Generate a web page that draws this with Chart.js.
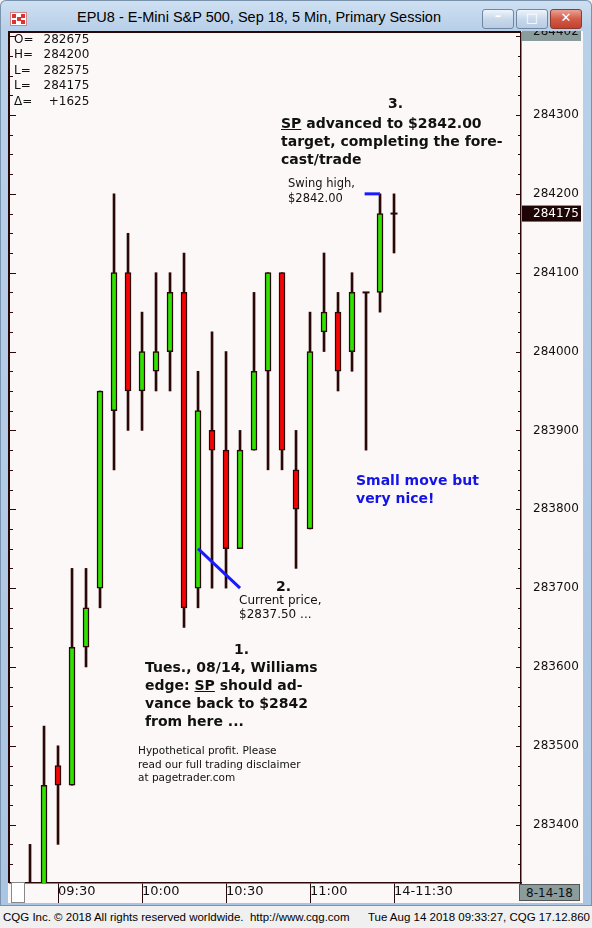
<!DOCTYPE html>
<html>
<head>
<meta charset="utf-8">
<script src="https://cdn.jsdelivr.net/npm/chart.js@4.4.1/dist/chart.umd.min.js"></script>
<style>
html,body{margin:0;padding:0}
body{width:592px;height:928px;position:relative;overflow:hidden;background:#f0f0f0;font-family:"DejaVu Sans",sans-serif;color:#111}
#frame{position:absolute;left:0;top:0;width:592px;height:906px;background:linear-gradient(#cfe0f2,#b9d0e9 28px,#aac5e2);border-radius:6px 6px 0 0;box-shadow:inset 0 0 0 1px #7a93ad}
#icon{position:absolute;left:10px;top:12px;width:15px;height:12px;background:#fff;border:1px solid #c88}
#icon i{position:absolute;width:4px;height:4px;background:#d33}
#title{position:absolute;left:77px;top:9px;font:14.5px "Liberation Sans",sans-serif;color:#000;white-space:nowrap}
.btn{position:absolute;top:9px;height:18px;width:30px;border:1px solid #6f87a3;border-radius:3px;background:linear-gradient(#eef4fb,#c9d9ec 50%,#b7cbe3)}
.btn.x{background:linear-gradient(#eba193,#d25b47 50%,#c4412c);border-color:#8a3b30}
.btn span{position:absolute;left:0;right:0;text-align:center;font:bold 13px "DejaVu Sans";color:#fff;top:0}
#client{position:absolute;left:8px;top:31px;width:575px;height:872px;background:#fcf8f7}
canvas{position:absolute;left:8px;top:31px}
.t{position:absolute;white-space:nowrap}
.b{font-weight:bold;font-size:14px;line-height:18px}
#ohlc{left:12px;top:31px;font-size:12px;line-height:13.4px}
#ohlc td{padding:0}
#ohlc td.v{text-align:right;padding-left:8px}
#status{position:absolute;left:0;top:906px;width:592px;height:22px;background:#f0f0f0;font:11.5px "Liberation Sans",sans-serif;color:#000}
#status span{position:absolute;top:5px}
#datebox{position:absolute;left:519px;top:884px;width:61px;height:17px;background:#8a9c9c;border:1px solid #555;font-size:12px;line-height:17px;text-align:center;color:#111;box-sizing:border-box}
#scrollbox{position:absolute;left:11px;top:882px;width:12px;height:19px;background:#fff;border:1px solid #888}
</style>
</head>
<body>
<div id="frame"></div>
<div id="icon"><i style="left:1px;top:1px"></i><i style="left:6px;top:4px"></i><i style="left:10px;top:1px"></i><i style="left:1px;top:7px"></i><i style="left:10px;top:7px"></i></div>
<div id="title">EPU8 - E-Mini S&amp;P 500, Sep 18, 5 Min, Primary Session</div>
<div class="btn" style="left:482px"><span style="top:-2px">&#8211;</span></div>
<div class="btn" style="left:516px"><span>&#9633;</span></div>
<div class="btn x" style="left:550px"><span>&#10005;</span></div>
<div id="client"></div>
<canvas id="c" width="575" height="872"></canvas>
<div id="scrollbox"></div>
<div id="datebox">8-14-18</div>

<table class="t" id="ohlc">
<tr><td>O=</td><td class="v">282675</td></tr>
<tr><td>H=</td><td class="v">284200</td></tr>
<tr><td>L=</td><td class="v">282575</td></tr>
<tr><td>L=</td><td class="v">284175</td></tr>
<tr><td>&#916;=</td><td class="v">+1625</td></tr>
</table>

<div class="t b" style="left:388px;top:94px">3.</div>
<div class="t b" style="left:281px;top:114px"><u>SP</u> advanced to $2842.00<br>target, completing the fore-<br>cast/trade</div>
<div class="t" style="left:288px;top:176px;font-size:11.5px;line-height:15px">Swing high,<br>$2842.00</div>
<div class="t b" style="left:356px;top:471px;color:#1414e6">Small move but<br>very nice!</div>
<div class="t b" style="left:276px;top:577px">2.</div>
<div class="t" style="left:239px;top:593px;font-size:12px;line-height:14px">Current price,<br>$2837.50 ...</div>
<div class="t b" style="left:234px;top:640px">1.</div>
<div class="t b" style="left:145px;top:658px">Tues., 08/14, Williams<br>edge: <u>SP</u> should ad-<br>vance back to $2842<br>from here ...</div>
<div class="t" style="left:138px;top:744px;font-size:10.5px;line-height:13.5px">Hypothetical profit. Please<br>read our full trading disclaimer<br>at pagetrader.com</div>

<div id="status"><span style="left:3px">CQG Inc. &#169; 2018 All rights reserved worldwide.&nbsp; http://www.cqg.com</span><span style="right:2px">Tue Aug 14 2018 09:33:27, CQG 17.12.860</span></div>

<script>
// 5-min bars, EPU8
const times = ["09:20","09:25","09:30","09:35","09:40","09:45","09:50","09:55","10:00","10:05","10:10","10:15","10:20","10:25","10:30","10:35","10:40","10:45","10:50","10:55","11:00","11:05","11:10","11:15","11:20","11:25","11:30"];
const opens  = [283150,283300,283475,283450,283625,283700,283925,284100,283950,283975,284000,284075,283700,283900,283875,283750,283875,283975,284100,283850,283775,284025,284050,284000,284075,284075,284175];
const highs  = [283375,283525,283500,283725,283725,283950,284200,284150,284050,284100,284100,284125,283975,284025,284000,283900,284075,284100,284100,283900,284050,284125,284075,284100,284075,284200,284200];
const lows   = [283100,283275,283375,283450,283600,283675,283850,283900,283900,283950,283950,283650,283675,283700,283700,283750,283875,283850,283850,283725,283775,284000,283950,283975,283875,284050,284125];
const closes = [283300,283450,283450,283625,283675,283950,284100,283950,284000,284000,284075,283675,283925,283875,283750,283875,283975,284100,283875,283800,284000,284050,283975,284075,284075,284175,284175];

const yTicks = [283400,283500,283600,283700,283800,283900,284000,284100,284200,284300];
const yMin = 283326, yMax = 284404;
const topLabel = 284402;
const xTickTimes  = ["09:30","10:00","10:30","11:00","11:30"];
const xTickLabels = ["09:30","10:00","10:30","11:00","14-11:30"];
const xMin = -1.43, xMax = 35.07;

// annotation lines [x1,y1,x2,y2] in bar index / price units
const currentPriceLine = [12, 283750, 15, 283700];
const swingHighLine = [23.9, 284200, 25, 284200];

const ink = "#2a0808";
const up = "#2ce600", down = "#ff0000";

const idx = times.map((t, i) => i);
const isDoji = i => opens[i] === closes[i];

const extras = {
  id: "extras",
  afterDatasetsDraw(chart) {
    const {ctx, chartArea: a, scales: {x, y}} = chart;
    ctx.save();
    ctx.strokeStyle = ink;
    ctx.lineWidth = 1;
    for (let v = Math.ceil(yMin / 25) * 25; v <= yMax; v += 25) {
      const py = Math.round(y.getPixelForValue(v)) + 0.5;
      const big = v % 100 === 0;
      ctx.beginPath();
      ctx.moveTo(a.left, py); ctx.lineTo(a.left + (big ? 6 : 3), py);
      ctx.moveTo(a.right, py); ctx.lineTo(a.right - (big ? 5 : 3), py);
      ctx.stroke();
    }
    ctx.strokeStyle = "#1a1aff";
    ctx.lineWidth = 3;
    [currentPriceLine, swingHighLine].forEach(l => {
      ctx.beginPath();
      ctx.moveTo(x.getPixelForValue(l[0]), y.getPixelForValue(l[1]));
      ctx.lineTo(x.getPixelForValue(l[2]), y.getPixelForValue(l[3]));
      ctx.stroke();
    });
    ctx.restore();
  },
  afterDraw(chart) {
    const {ctx, chartArea: a, scales: {y}} = chart;
    ctx.save();
    // plot frame
    ctx.strokeStyle = ink;
    ctx.lineWidth = 2;
    ctx.beginPath();
    ctx.moveTo(a.left - 1, a.bottom); ctx.lineTo(a.left - 1, a.top - 1); ctx.lineTo(a.right, a.top - 1);
    ctx.stroke();
    ctx.font = '12px "DejaVu Sans"';
    ctx.textBaseline = "middle";
    // max value box (clipped at top)
    ctx.fillStyle = "#8a9c9c";
    ctx.fillRect(a.right + 1, 0, 59, 10);
    ctx.fillStyle = "#111";
    ctx.fillText(String(topLabel), a.right + 12, 1);
    // last price box
    const last = closes[closes.length - 1];
    const py = y.getPixelForValue(last);
    ctx.fillStyle = "#1e0404";
    ctx.fillRect(a.right + 1, py - 8, 59, 16);
    ctx.fillStyle = "#ffffff";
    ctx.fillText(String(last), a.right + 12, py);
    ctx.restore();
  }
};

new Chart(document.getElementById("c"), {
  type: "bar",
  data: {
    datasets: [
      {
        label: "wick",
        order: 3,
        data: idx.map(i => ({x: i, y: [lows[i], highs[i]]})),
        backgroundColor: ink,
        barThickness: 2,
        grouped: false
      },
      {
        label: "body",
        order: 2,
        data: idx.filter(i => !isDoji(i)).map(i => ({x: i, y: [opens[i], closes[i]]})),
        backgroundColor: idx.filter(i => !isDoji(i)).map(i => closes[i] > opens[i] ? up : down),
        borderColor: ink,
        borderWidth: 1.5,
        borderSkipped: false,
        barThickness: 6,
        grouped: false
      },
      {
        type: "line",
        label: "doji",
        order: 1,
        data: idx.filter(isDoji).map(i => ({x: i, y: closes[i]})),
        showLine: false,
        pointStyle: "line",
        pointRadius: 3.5,
        borderColor: ink,
        borderWidth: 2
      }
    ]
  },
  options: {
    responsive: false,
    animation: false,
    devicePixelRatio: 1,
    layout: {autoPadding: false, padding: {left: 2, top: 2, right: 0, bottom: 0}},
    plugins: {legend: {display: false}, tooltip: {enabled: false}},
    scales: {
      x: {
        type: "linear",
        min: xMin,
        max: xMax,
        offset: false,
        afterBuildTicks: s => { s.ticks = xTickTimes.map(t => ({value: times.indexOf(t)})); },
        afterFit: s => { s.height = 20; s.paddingLeft = 0; s.paddingRight = 0; },
        ticks: {
          autoSkip: false,
          maxRotation: 0,
          align: "start",
          padding: -19,
          color: "#111",
          font: {family: "DejaVu Sans", size: 13},
          callback: (v) => xTickLabels[xTickTimes.indexOf(times[v])]
        },
        grid: {offset: false, drawOnChartArea: false, drawTicks: true, tickLength: 20, color: ink},
        border: {color: ink, width: 1.5}
      },
      y: {
        position: "right",
        min: yMin,
        max: yMax,
        beginAtZero: false,
        afterBuildTicks: s => { s.ticks = yTicks.map(v => ({value: v})); },
        afterFit: s => { s.width = 62; s.paddingTop = 0; s.paddingBottom = 0; },
        ticks: {
          padding: 12,
          color: "#111",
          font: {family: "DejaVu Sans", size: 12},
          callback: v => String(v)
        },
        grid: {drawOnChartArea: false, drawTicks: false},
        border: {color: ink, width: 1.5}
      }
    }
  },
  plugins: [extras]
});
</script>
</body>
</html>
